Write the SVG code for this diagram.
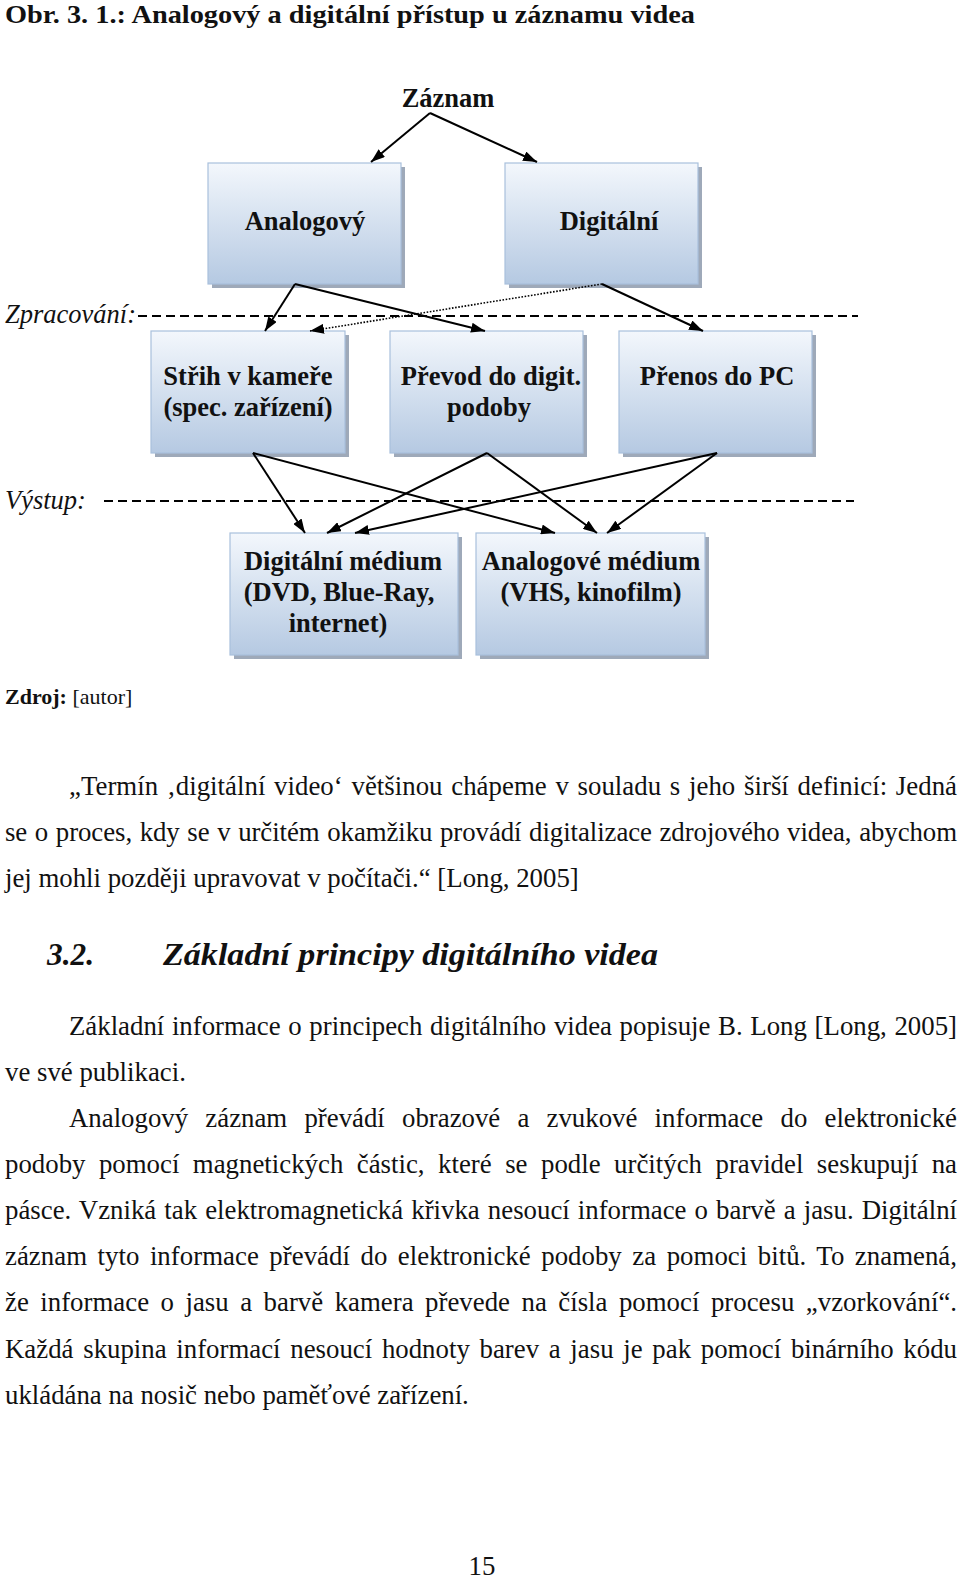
<svg xmlns="http://www.w3.org/2000/svg" width="960" height="1580" viewBox="0 0 960 1580">
<style>
.t{font-family:"Liberation Serif","Times New Roman",serif;fill:#111}
.body{font-size:26.8px}
.bx{font-family:"Liberation Serif","Times New Roman",serif;font-size:26.5px;font-weight:bold;fill:#111;text-anchor:middle}
.lbl{font-family:"Liberation Serif","Times New Roman",serif;font-size:26.5px;font-style:italic;fill:#111}
.sh{fill:#9ea9b9}
.box{fill:url(#g);stroke:#a9c0dc;stroke-width:1.2}
.c{stroke:#000;stroke-width:2;fill:none;marker-end:url(#ah)}
.d{stroke:#000;stroke-width:2;stroke-dasharray:9 5;fill:none}
</style>
<defs>
<linearGradient id="g" x1="0" y1="0" x2="0" y2="1">
<stop offset="0" stop-color="#f3f7fc"/>
<stop offset="1" stop-color="#b5c9e2"/>
</linearGradient>
<marker id="ah" viewBox="0 0 14 10" refX="14" refY="5" markerWidth="14" markerHeight="10" markerUnits="userSpaceOnUse" orient="auto">
<path d="M0,0 L14,5 L0,10 z" fill="#000"/>
</marker>
</defs>
<rect width="960" height="1580" fill="#fff"/>

<text class="t" x="5" y="23" font-size="26" font-weight="bold" textLength="690" lengthAdjust="spacingAndGlyphs">Obr. 3. 1.: Analogový a digitální přístup u záznamu videa</text>

<g id="zaznam"><text class="bx" x="448" y="107">Záznam</text></g>

<g id="analogovy">
<rect class="sh" x="212" y="167" width="193" height="121"/>
<rect class="box" x="208" y="163" width="193" height="121"/>
<text class="bx" x="305" y="230">Analogový</text>
</g>
<g id="digitalni">
<rect class="sh" x="509" y="167" width="193" height="121"/>
<rect class="box" x="505" y="163" width="193" height="121"/>
<text class="bx" x="609" y="230">Digitální</text>
</g>

<g id="strih">
<rect class="sh" x="155" y="335" width="194" height="122"/>
<rect class="box" x="151" y="331" width="194" height="122"/>
<text class="bx" x="248" y="385">Střih v kameře</text>
<text class="bx" x="248" y="416">(spec. zařízení)</text>
</g>
<g id="prevod">
<rect class="sh" x="394" y="335" width="193" height="122"/>
<rect class="box" x="390" y="331" width="193" height="122"/>
<text class="bx" x="491" y="385">Převod do digit.</text>
<text class="bx" x="489" y="416">podoby</text>
</g>
<g id="prenos">
<rect class="sh" x="623" y="335" width="193" height="122"/>
<rect class="box" x="619" y="331" width="193" height="122"/>
<text class="bx" x="717" y="385">Přenos do PC</text>
</g>

<g id="dig-medium">
<rect class="sh" x="234" y="537" width="228" height="122"/>
<rect class="box" x="230" y="533" width="228" height="122"/>
<text class="bx" x="343" y="570">Digitální médium</text>
<text class="bx" x="339" y="601">(DVD, Blue-Ray,</text>
<text class="bx" x="338" y="632">internet)</text>
</g>
<g id="an-medium">
<rect class="sh" x="480" y="537" width="229" height="122"/>
<rect class="box" x="476" y="533" width="229" height="122"/>
<text class="bx" x="591" y="570">Analogové médium</text>
<text class="bx" x="591" y="601">(VHS, kinofilm)</text>
</g>

<g id="levels">
<text class="lbl" x="5" y="323">Zpracování:</text>
<line class="d" x1="138" y1="316" x2="858" y2="316"/>
<text class="lbl" x="5" y="509">Výstup:</text>
<line class="d" x1="104" y1="501" x2="854" y2="501"/>
</g>

<g id="connectors">
<path class="c" d="M430,113 L371,162"/>
<path class="c" d="M430,113 L537,162"/>
<path class="c" d="M295,284 L265,331"/>
<path class="c" d="M295,284 L485,331"/>
<path d="M602,284 L310,331" stroke="#000" stroke-width="1.6" stroke-dasharray="1.6 1.6" fill="none" marker-end="url(#ah)"/>
<path class="c" d="M602,284 L703,331"/>
<path class="c" d="M253,453 L305,533"/>
<path class="c" d="M253,453 L555,533"/>
<path class="c" d="M487,453 L327,533"/>
<path class="c" d="M487,453 L597,533"/>
<path class="c" d="M717,453 L355,533"/>
<path class="c" d="M717,453 L607,533"/>
</g>

<text class="t" x="5" y="704" font-size="22"><tspan font-weight="bold">Zdroj:</tspan> [autor]</text>

<g class="t body">
<text x="69" y="795" word-spacing="2" textLength="888" lengthAdjust="spacing">„Termín ‚digitální video‘ většinou chápeme v souladu s jeho širší definicí: Jedná</text>
<text x="5" y="841" word-spacing="1" textLength="952" lengthAdjust="spacing">se o proces, kdy se v určitém okamžiku provádí digitalizace zdrojového videa, abychom</text>
<text x="5" y="887">jej mohli později upravovat v počítači.“ [Long, 2005]</text>
</g>

<g class="t" font-weight="bold" font-style="italic" font-size="31">
<text x="47" y="965" textLength="47" lengthAdjust="spacingAndGlyphs">3.2.</text>
<text x="163" y="965" textLength="495" lengthAdjust="spacingAndGlyphs">Základní principy digitálního videa</text>
</g>

<g class="t body">
<text x="69" y="1035" word-spacing="1" textLength="888" lengthAdjust="spacing">Základní informace o principech digitálního videa popisuje B. Long [Long, 2005]</text>
<text x="5" y="1081">ve své publikaci.</text>
<text x="69" y="1127" word-spacing="10.5" textLength="888" lengthAdjust="spacing">Analogový záznam převádí obrazové a zvukové informace do elektronické</text>
<text x="5" y="1173" word-spacing="6.8" textLength="952" lengthAdjust="spacing">podoby pomocí magnetických částic, které se podle určitých pravidel seskupují na</text>
<text x="5" y="1219" word-spacing="1.4" textLength="952" lengthAdjust="spacing">pásce. Vzniká tak elektromagnetická křivka nesoucí informace o barvě a jasu. Digitální</text>
<text x="5" y="1265" word-spacing="3.8" textLength="952" lengthAdjust="spacing">záznam tyto informace převádí do elektronické podoby za pomoci bitů. To znamená,</text>
<text x="5" y="1311" word-spacing="4.8" textLength="952" lengthAdjust="spacing">že informace o jasu a barvě kamera převede na čísla pomocí procesu „vzorkování“.</text>
<text x="5" y="1358" word-spacing="3" textLength="952" lengthAdjust="spacing">Každá skupina informací nesoucí hodnoty barev a jasu je pak pomocí binárního kódu</text>
<text x="5" y="1404">ukládána na nosič nebo paměťové zařízení.</text>
</g>

<text class="t" x="482" y="1575" font-size="26.8" text-anchor="middle">15</text>
</svg>
